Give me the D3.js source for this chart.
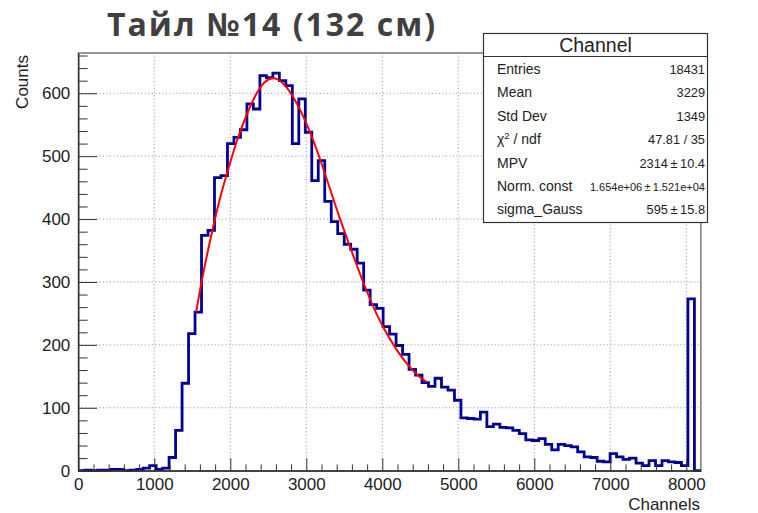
<!DOCTYPE html>
<html>
<head>
<meta charset="utf-8">
<script src="https://cdn.jsdelivr.net/npm/d3@7.9.0/dist/d3.min.js"></script>
<style>
  body { margin: 0; background: #fff; }
  svg text { font-family: "Liberation Sans", Arial, sans-serif; fill: #222; }
</style>
</head>
<body>
<svg id="chart" width="758" height="513"></svg>
<script>
// histogram: 96 bins over 0..8192 channels
const xMax = 8192;
const nBins = 96;
const counts = [
  0, 1, 0, 1, 1, 2, 2, 0, 1, 2, 4, 8, 2, 4, 21, 64,
  139, 218, 252, 374, 382, 466, 469, 520, 530, 542,
  583, 575, 628, 625, 632, 620, 612, 520, 591, 538,
  461, 493, 428, 396, 377, 360, 352, 330, 287, 264,
  258, 229, 217, 199, 185, 161, 152, 140, 134, 147,
  133, 128, 112, 84, 83, 82, 93, 70, 74, 69,
  68, 64, 59, 49, 48, 51, 42, 33, 42, 40,
  38, 30, 22, 21, 15, 14, 27, 22, 18, 20,
  12, 8, 16, 8, 16, 14, 13, 8, 273, 0
];

// fit curve (channel, counts)
const fitX = [1550, 1624, 1733, 1864, 1974, 2084, 2216, 2347, 2457, 2558, 2676, 2829,
  3005, 3180, 3355, 3443, 3575, 3750, 3926, 4101, 4276, 4452, 4584];
const fitY = [252, 303, 366, 435, 480, 525, 567, 602, 620, 626, 620, 596,
  553, 497, 432, 400, 356, 298, 247, 208, 176, 152, 141];

const xTicks = [0, 1000, 2000, 3000, 4000, 5000, 6000, 7000, 8000];
const yTicks = [0, 100, 200, 300, 400, 500, 600];

const statLabels = ["Entries", "Mean", "Std Dev", "chi2", "MPV", "Norm. const", "sigma_Gauss"];
const statValues = ["18431", "3229", "1349", "47.81 / 35", "2314\u2009\u00b1\u200910.4",
  "1.654e+06\u2009\u00b1\u20091.521e+04", "595\u2009\u00b1\u200915.8"];

const svg = d3.select("#chart");

const x = d3.scaleLinear().domain([0, xMax]).range([78.3, 700.9]);
const y = d3.scaleLinear().domain([0, 664]).range([470.7, 53]);

// title; small letter spacing to reach the width it has in the slide
const titleText = "Тайл №14 (132 см)";
const title = svg.append("text")
  .attr("x", 272)
  .attr("y", 36)
  .attr("text-anchor", "middle")
  .style("font-family", "'Open Sans', Lato, sans-serif")
  .style("font-weight", "bold")
  .style("font-size", "32px")
  .style("fill", "#404040")
  .text(titleText);
const tw = title.node().getComputedTextLength();
title.style("letter-spacing", Math.max(0, (330 - tw) / titleText.length).toFixed(2) + "px");

// grid
const grid = svg.append("g")
  .attr("stroke", "#a0a0a0")
  .attr("stroke-width", 1)
  .attr("stroke-dasharray", "1.2,2.3");

grid.selectAll(".gx")
  .data(xTicks.filter((d) => d > 0))
  .join("line")
  .attr("x1", (d) => x(d)).attr("x2", (d) => x(d))
  .attr("y1", y.range()[0]).attr("y2", y.range()[1]);

grid.selectAll(".gy")
  .data(yTicks.filter((d) => d > 0))
  .join("line")
  .attr("y1", (d) => y(d)).attr("y2", (d) => y(d))
  .attr("x1", x.range()[0]).attr("x2", x.range()[1]);

// histogram outline
const binW = xMax / nBins;
const pts = [[0, 0]];
counts.forEach((c, i) => {
  pts.push([i * binW, c]);
  pts.push([(i + 1) * binW, c]);
});
pts.push([xMax, 0]);

svg.append("path")
  .datum(pts)
  .attr("fill", "none")
  .attr("stroke", "#000099")
  .attr("stroke-width", 2.8)
  .attr("d", d3.line().x((d) => x(d[0])).y((d) => y(d[1])));

// fit
svg.append("path")
  .datum(fitX.map((d, i) => [d, fitY[i]]))
  .attr("fill", "none")
  .attr("stroke", "#ff0000")
  .attr("stroke-width", 2)
  .attr("d", d3.line().curve(d3.curveBasis).x((d) => x(d[0])).y((d) => y(d[1])));

// frame
svg.append("rect")
  .attr("x", x.range()[0]).attr("y", y.range()[1])
  .attr("width", x.range()[1] - x.range()[0])
  .attr("height", y.range()[0] - y.range()[1])
  .attr("fill", "none")
  .attr("stroke", "#333")
  .attr("stroke-width", 1);

// axes
svg.append("g")
  .attr("transform", `translate(0,${y.range()[0]})`)
  .call(d3.axisBottom(x).tickValues(xTicks).tickSizeInner(-12.6).tickSizeOuter(0).tickPadding(7).tickFormat(d3.format("d")));
svg.append("g")
  .attr("transform", `translate(0,${y.range()[0]})`)
  .call(d3.axisBottom(x).tickValues(d3.range(200, xMax, 200).filter((d) => d % 1000)).tickSizeInner(-6.3).tickSizeOuter(0).tickFormat(""));

svg.append("g")
  .attr("transform", `translate(${x.range()[0]},0)`)
  .call(d3.axisLeft(y).tickValues(yTicks).tickSizeInner(-18.7).tickSizeOuter(0).tickPadding(8));
svg.append("g")
  .attr("transform", `translate(${x.range()[0]},0)`)
  .call(d3.axisLeft(y).tickValues(d3.range(20, 664, 20).filter((d) => d % 100)).tickSizeInner(-9.3).tickSizeOuter(0).tickFormat(""));

svg.selectAll(".domain").attr("stroke", "#333");
svg.selectAll(".tick line").attr("stroke", "#333");
svg.selectAll(".tick text")
  .style("font-family", "'Liberation Sans', Arial, sans-serif")
  .style("font-size", "17px")
  .style("fill", "#222");

// axis titles
svg.append("text")
  .attr("x", 700).attr("y", 510)
  .attr("text-anchor", "end")
  .style("font-size", "17px")
  .text("Channels");

svg.append("text")
  .attr("transform", "translate(28,55) rotate(-90)")
  .attr("text-anchor", "end")
  .style("font-size", "17px")
  .text("Counts");

// stats box
const box = svg.append("g");
box.append("rect")
  .attr("x", 483.5).attr("y", 33.5)
  .attr("width", 224).attr("height", 189)
  .attr("fill", "#fff")
  .attr("stroke", "#333")
  .attr("stroke-width", 1.2);
box.append("line")
  .attr("x1", 483.5).attr("x2", 707.5)
  .attr("y1", 56.5).attr("y2", 56.5)
  .attr("stroke", "#333").attr("stroke-width", 1.2);
box.append("text")
  .attr("x", 595.5).attr("y", 52)
  .attr("text-anchor", "middle")
  .style("font-size", "19.5px")
  .text("Channel");

const rowY = (i) => 74 + i * 23.4;
statLabels.forEach((lab, i) => {
  const t = box.append("text")
    .attr("x", 497).attr("y", rowY(i))
    .style("font-size", "14px");
  if (lab === "chi2") {
    t.append("tspan").text("\u03c7");
    t.append("tspan").attr("dy", -5).style("font-size", "9.5px").text("2");
    t.append("tspan").attr("dy", 5).text(" / ndf");
  } else {
    t.text(lab);
  }
  box.append("text")
    .attr("x", 705).attr("y", rowY(i))
    .attr("text-anchor", "end")
    .style("font-size", i === 5 ? "11px" : "12.8px")
    .text(statValues[i]);
});
</script>
</body>
</html>
